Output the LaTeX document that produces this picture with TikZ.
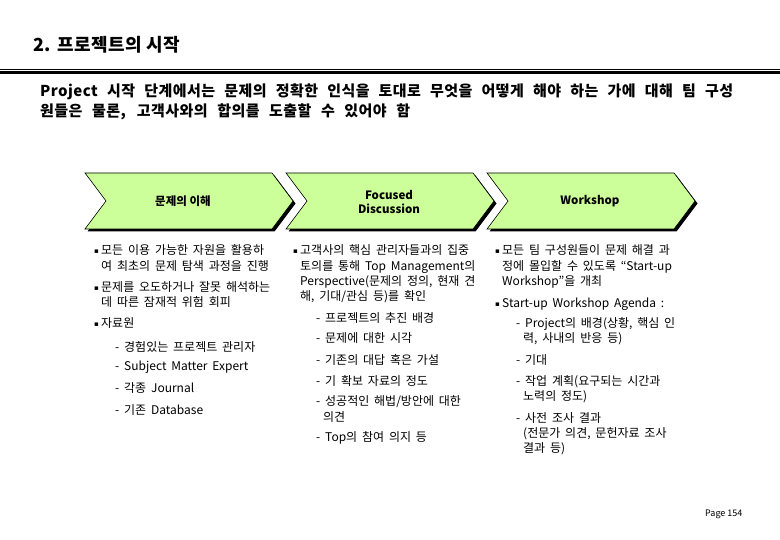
\documentclass[tikz,border=0pt]{standalone}
\usepackage{fontspec}
\setmainfont{Noto Sans CJK KR}
\newfontfamily\bodyfont{Noto Sans CJK KR}[WordSpace=1.8]
\newfontfamily\headfont{Noto Sans CJK KR}[LetterSpace=3]
\newfontfamily\symfont{DejaVu Sans}
\definecolor{chev}{RGB}{204,255,153}
\newcommand\bul{\makebox[7pt][l]{\raisebox{1.2pt}{\symfont\fontsize{7}{7}\selectfont ▪}}}
\newcommand\chevpath[1]{(#1,173) -- ++(187,0) -- ++(21,28) -- ++(-21,28) -- ++(-187,0) -- ++(21,-28) -- cycle}
\tikzset{
  txt/.style={anchor=base west, inner sep=0pt, font=\bodyfont\fontsize{12}{13}\selectfont},
  chevlabel/.style={inner sep=0pt, align=center, font=\bfseries\fontsize{11.5}{14}\selectfont},
  chevshape/.style={fill=chev, draw=black, line width=0.6pt},
  chevshadow/.style={fill=black},
  subtxt/.style={anchor=base west, inner sep=0pt, font=\headfont\bfseries\fontsize{15}{16}\selectfont},
}
\begin{document}
\begin{tikzpicture}[x=1pt,y=-1pt]
\useasboundingbox (0,0) rectangle (780,540);
\fill[white] (0,0) rectangle (780,540);

% title and rules
\node[anchor=base west, inner sep=0pt, font=\headfont\bfseries\fontsize{18}{20}\selectfont] (title) at (33,52) {2. 프로젝트의 시작};
\draw[line width=0.9pt] (0,69.3) -- (780,69.3);
\draw[line width=3pt] (0,72.6) -- (780,72.6);

\node[subtxt] (sub1) at (40,97)
  {\makebox[693pt][s]{Project 시작 단계에서는 문제의 정확한 인식을 토대로 무엇을 어떻게 해야 하는 가에 대해 팀 구성}};
\node[subtxt] (sub2) at (40,116.5)
  {\makebox[370pt][s]{원들은 물론, 고객사와의 합의를 도출할 수 있어야 함}};

% chevrons
\foreach \L in {85,286,487}{
  \fill[chevshadow] [shift={(2.5,2.5)}] \chevpath{\L};
  \filldraw[chevshape] \chevpath{\L};
}
\node[chevlabel] (h1) at (183,201) {문제의 이해};
\node[chevlabel] (h2) at (389,202) {Focused\\Discussion};
\node[chevlabel] (h3) at (590,201) {Workshop};

% column 1
\node[txt] (a1) at (94,254.5) {\bul 모든 이용 가능한 자원을 활용하};
\node[txt] (a2) at (101,270.5) {여 최초의 문제 탐색 과정을 진행};
\node[txt] (a3) at (94,292) {\bul 문제를 오도하거나 잘못 해석하는};
\node[txt] (a4) at (101,307) {데 따른 잠재적 위험 회피};
\node[txt] (a5) at (94,328) {\bul 자료원};
\node[txt] (a6) at (115,351.5) {- 경험있는 프로젝트 관리자};
\node[txt] (a7) at (115,370.5) {- Subject Matter Expert};
\node[txt] (a8) at (115,392.5) {- 각종 Journal};
\node[txt] (a9) at (115,414.5) {- 기존 Database};

% column 2
\node[txt] (b1) at (293,255) {\bul 고객사의 핵심 관리자들과의 집중};
\node[txt] (b2) at (300,270.5) {토의를 통해 Top Management의};
\node[txt] (b3) at (300,286) {Perspective(문제의 정의, 현재 견};
\node[txt] (b4) at (300,301) {해, 기대/관심 등)를 확인};
\node[txt] (b5) at (316,322.5) {- 프로젝트의 추진 배경};
\node[txt] (b6) at (316,343) {- 문제에 대한 시각};
\node[txt] (b7) at (316,364.5) {- 기존의 대답 혹은 가설};
\node[txt] (b8) at (316,385.5) {- 기 확보 자료의 정도};
\node[txt] (b9) at (316,406) {- 성공적인 해법/방안에 대한};
\node[txt] (b10) at (323,421) {의견};
\node[txt] (b11) at (316,441.5) {- Top의 참여 의지 등};

% column 3
\node[txt] (c1) at (495,254.5) {\bul 모든 팀 구성원들이 문제 해결 과};
\node[txt] (c2) at (502,270.5) {정에 몰입할 수 있도록 “Start-up};
\node[txt] (c3) at (502,285.5) {Workshop”을 개최};
\node[txt] (c4) at (495,307.5) {\bul Start-up Workshop Agenda :};
\node[txt] (c5) at (516,328) {- Project의 배경(상황, 핵심 인};
\node[txt] (c6) at (523,343) {력, 사내의 반응 등)};
\node[txt] (c7) at (516,364.5) {- 기대};
\node[txt] (c8) at (516,385.5) {- 작업 계획(요구되는 시간과};
\node[txt] (c9) at (523,400.5) {노력의 정도)};
\node[txt] (c10) at (516,422.5) {- 사전 조사 결과};
\node[txt] (c11) at (523,437.5) {(전문가 의견, 문헌자료 조사};
\node[txt] (c12) at (523,452.5) {결과 등)};

% page number
\node[anchor=base west, inner sep=0pt, font=\fontsize{9}{10}\selectfont] (page) at (705,516) {Page 154};
\end{tikzpicture}
\end{document}
